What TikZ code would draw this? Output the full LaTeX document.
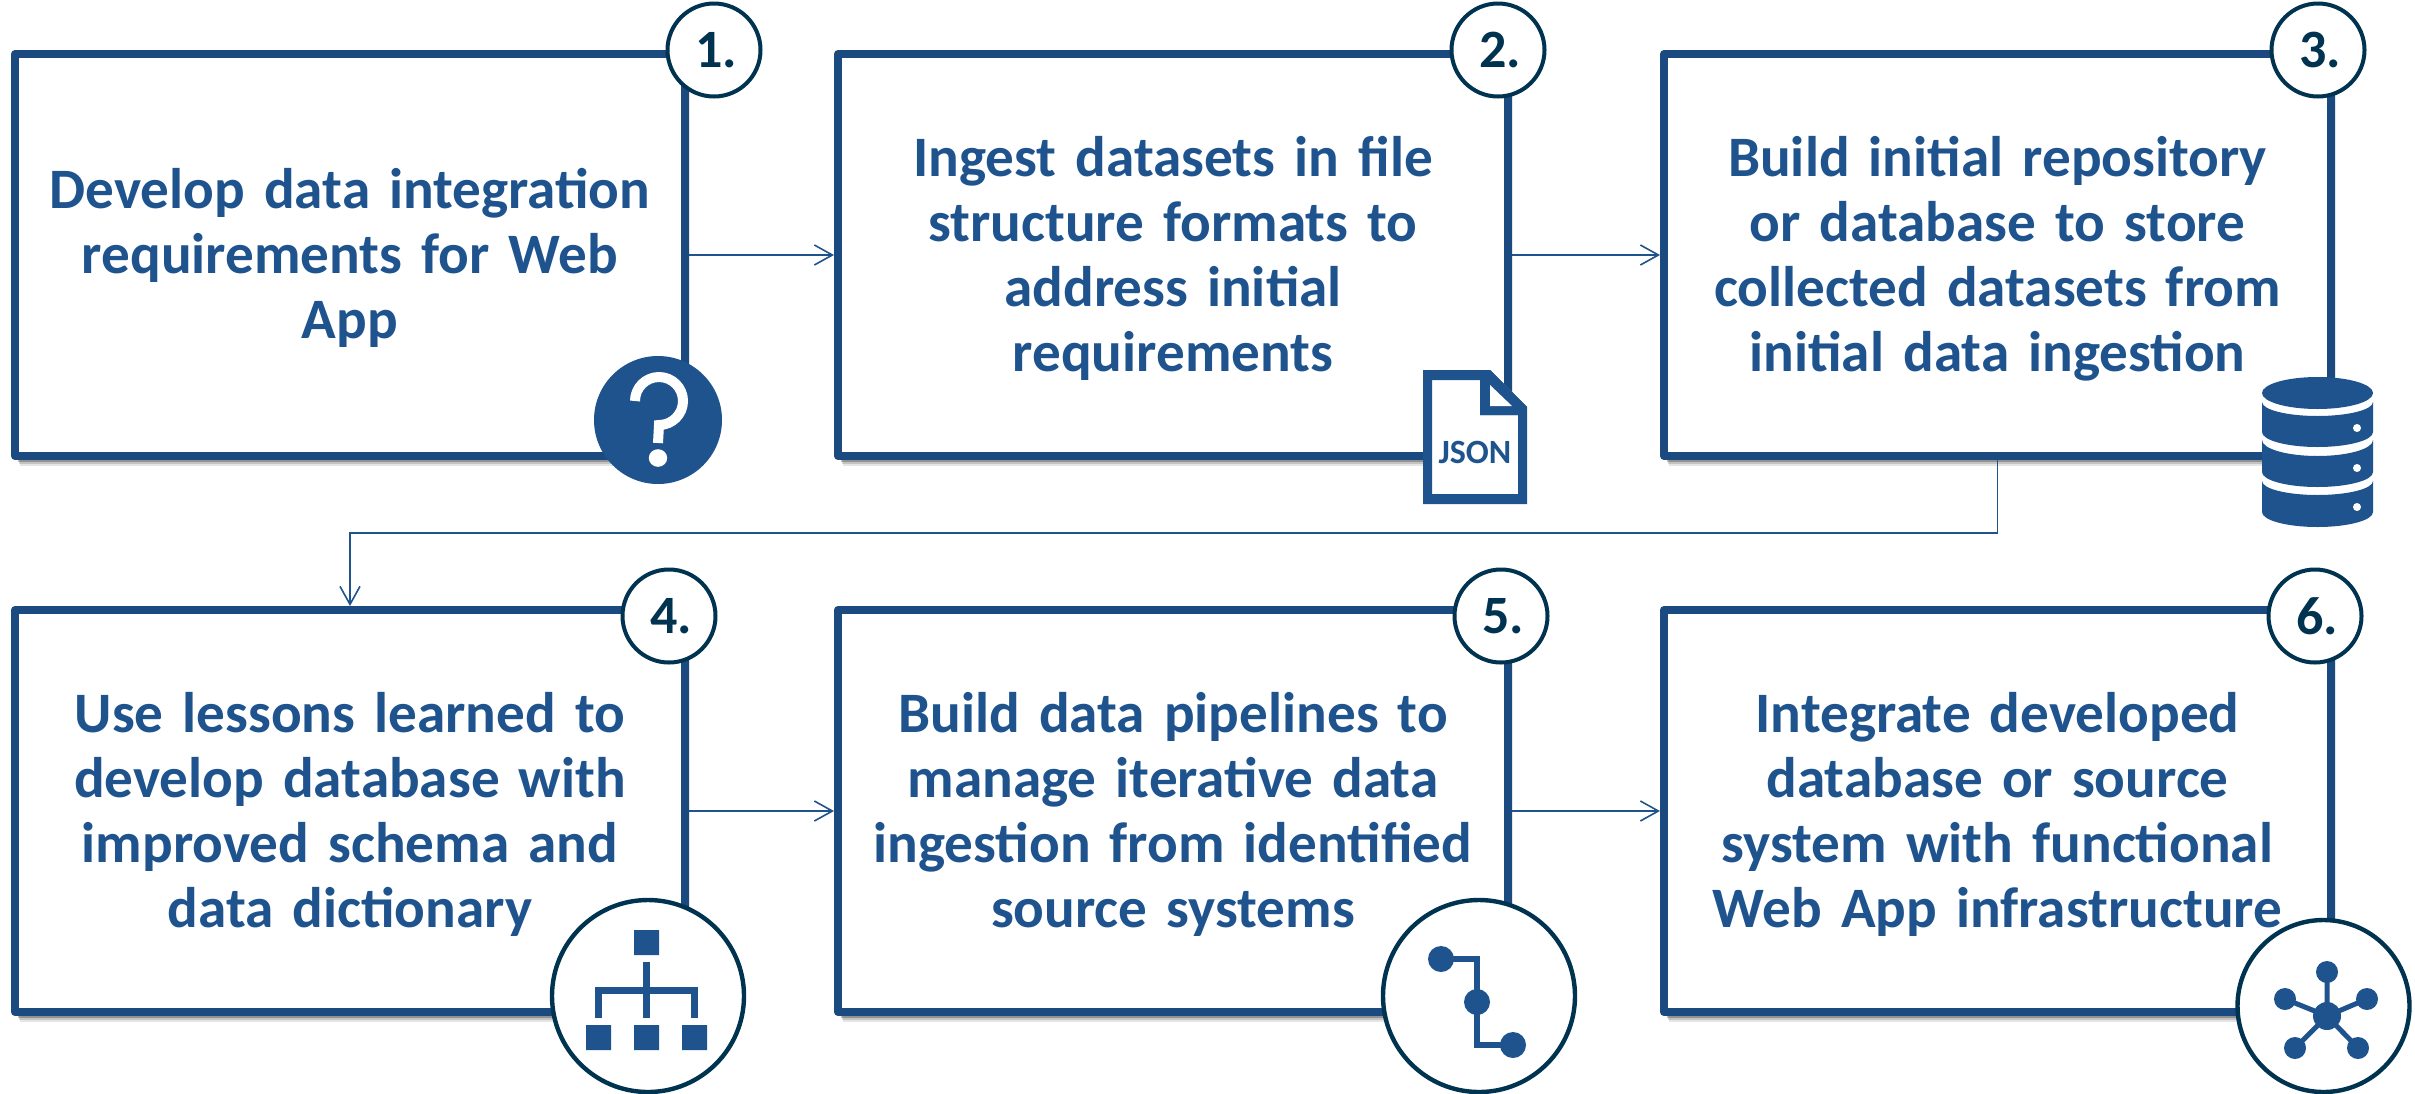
\documentclass[tikz,border=0pt]{standalone}
\usepackage{fontspec}
\setmainfont{Carlito}[WordSpace=0.8]
\usetikzlibrary{arrows.meta,shadows}
\definecolor{boxline}{HTML}{1A4A7F}
\definecolor{iconblue}{HTML}{1F538E}
\definecolor{ringdark}{HTML}{003350}
\tikzset{
  stepbox/.style={draw=boxline,line width=4pt,fill=white,line join=round,
    minimum height=201pt,text width=325pt,align=center,inner sep=0pt,
    text=iconblue,font=\fontsize{28.6}{32.5}\selectfont\bfseries,
    execute at begin node={\rule{0pt}{23.4pt}},
    drop shadow={shadow xshift=2.6pt,shadow yshift=-5pt,opacity=.10,fill=black},
    drop shadow={shadow xshift=2pt,shadow yshift=-4pt,opacity=.15,fill=black},
    drop shadow={shadow xshift=1.5pt,shadow yshift=-3pt,opacity=.25,fill=black}},
  numring/.style={circle,draw=ringdark,line width=2pt,fill=white,minimum size=46.5pt,inner sep=0pt,
    text=ringdark,font=\fontsize{27}{30}\selectfont\bfseries},
  iconring/.style={circle,draw=ringdark,line width=2.2pt,fill=white,inner sep=0pt},
  flow/.style={draw=iconblue,line width=.8pt,-{Straight Barb[length=9pt,width=10pt,line width=.8pt]}}
}
\begin{document}
\begin{tikzpicture}[x=0.5pt,y=-0.5pt]
\useasboundingbox (0,0) rectangle (2415,1093);
% boxes
\node[stepbox,minimum width=335pt] (b1) at (350,255) {Develop data integration\\requirements for Web\\App};
\node[stepbox,minimum width=335pt] (b2) at (1173,255) {Ingest datasets in file\\structure formats to\\address initial\\requirements};
\node[stepbox,minimum width=333.5pt] (b3) at (1997.5,255) {Build initial repository\\or database to store\\collected datasets from\\initial data ingestion};
\node[stepbox,minimum width=335pt] (b4) at (350,811) {Use lessons learned to\\develop database with\\improved schema and\\data dictionary};
\node[stepbox,minimum width=335pt] (b5) at (1173,811) {Build data pipelines to\\manage iterative data\\ingestion from identified\\source systems};
\node[stepbox,minimum width=333.5pt] (b6) at (1997.5,811) {Integrate developed\\database or source\\system with functional\\Web App infrastructure};
% connectors
\draw[flow] (b1.east) -- (b2.west);
\draw[flow] (b2.east) -- (b3.west);
\coordinate (bend) at (1997.5,533);
\draw[flow] (b3.south) -- (bend) -| (b4.north);
\draw[flow] (b4.east) -- (b5.west);
\draw[flow] (b5.east) -- (b6.west);
% numbers
\node[numring] (n1) at (714,50) {\hspace{2pt}1.};
\node[numring] (n2) at (1498,50) {\hspace{2pt}2.};
\node[numring] (n3) at (2318,50) {\hspace{2pt}3.};
\node[numring] (n4) at (669,616) {\hspace{2pt}4.};
\node[numring] (n5) at (1501,616) {\hspace{2pt}5.};
\node[numring] (n6) at (2315,616) {\hspace{2pt}6.};
% question icon
\fill[iconblue] (658,420) circle[radius=32pt];
\draw[white,line width=5pt] (635,401) arc[start angle=180,end angle=-90,radius=12pt] -- (658,443);
\fill[white] (658,458) ellipse[x radius=4.6pt,y radius=4.4pt];
% JSON icon
\fill[white] (1423,370) -- (1490,370) -- (1527,407) -- (1527,504) -- (1423,504) -- cycle;
\fill[iconblue,even odd rule] (1423,370) -- (1490,370) -- (1527,407) -- (1527,504) -- (1423,504) -- cycle
  (1432,380) -- (1480,380) -- (1480,415) -- (1518,415) -- (1518,494) -- (1432,494) -- cycle;
\fill[iconblue] (1480,380) -- (1490,370) -- (1527,407) -- (1518,415) -- (1480,415) -- cycle;
\fill[white] (1490,385) -- (1490,406) -- (1512,406) -- cycle;
\node[text=iconblue,font=\fontsize{17}{20}\selectfont\bfseries,inner sep=0pt] (json) at (1475,452) {JSON};
% database icon
\fill[white] (2262,393) rectangle (2373,512);
\fill[iconblue] (2317.5,393) ellipse[x radius=27.75pt,y radius=8pt];
\fill[iconblue] (2262,402) arc[start angle=180,end angle=360,x radius=27.75pt,y radius=7pt] -- (2373,432)
  arc[start angle=0,end angle=-180,x radius=27.75pt,y radius=7.5pt] -- cycle;
\fill[iconblue] (2262,440) arc[start angle=180,end angle=360,x radius=27.75pt,y radius=8pt] -- (2373,472)
  arc[start angle=0,end angle=-180,x radius=27.75pt,y radius=7.5pt] -- cycle;
\fill[iconblue] (2262,481) arc[start angle=180,end angle=360,x radius=27.75pt,y radius=7pt] -- (2373,512)
  arc[start angle=0,end angle=-180,x radius=27.75pt,y radius=7.5pt] -- cycle;
\fill[white] (2357,428) circle[radius=2pt] (2357,468) circle[radius=2pt] (2357,507) circle[radius=2pt];
% icon rings
\node[iconring,minimum size=96pt] (r4) at (648,996) {};
\node[iconring,minimum size=96pt] (r5) at (1479,996) {};
\node[iconring,minimum size=86pt] (r6) at (2323.5,1006) {};
% hierarchy icon
\fill[iconblue] (634,930) rectangle (659,955) (586,1025) rectangle (611,1050) (634,1025) rectangle (659,1050) (682,1025) rectangle (707,1050);
\draw[iconblue,line width=3.5pt] (646.5,962) -- (646.5,1018) (598.5,1018) -- (598.5,990) -- (694.5,990) -- (694.5,1018);
% pipeline icon
\draw[iconblue,line width=3pt] (1441,959) -- (1477,959) -- (1477,1045) -- (1513,1045);
\fill[iconblue] (1441,959) circle[radius=6.5pt] (1477,1002) circle[radius=6.5pt] (1513,1045) circle[radius=6.5pt];
% hub icon
\draw[iconblue,line width=2.5pt] (2327,1016) -- (2327,972) (2327,1016) -- (2285,999) (2327,1016) -- (2367,999) (2327,1016) -- (2295,1048) (2327,1016) -- (2358,1048);
\fill[iconblue] (2327,1016) circle[radius=7pt] (2327,972) circle[radius=5.5pt] (2285,999) circle[radius=5.5pt] (2367,999) circle[radius=5.5pt] (2295,1048) circle[radius=5.5pt] (2358,1048) circle[radius=5.5pt];
\end{tikzpicture}
\end{document}
